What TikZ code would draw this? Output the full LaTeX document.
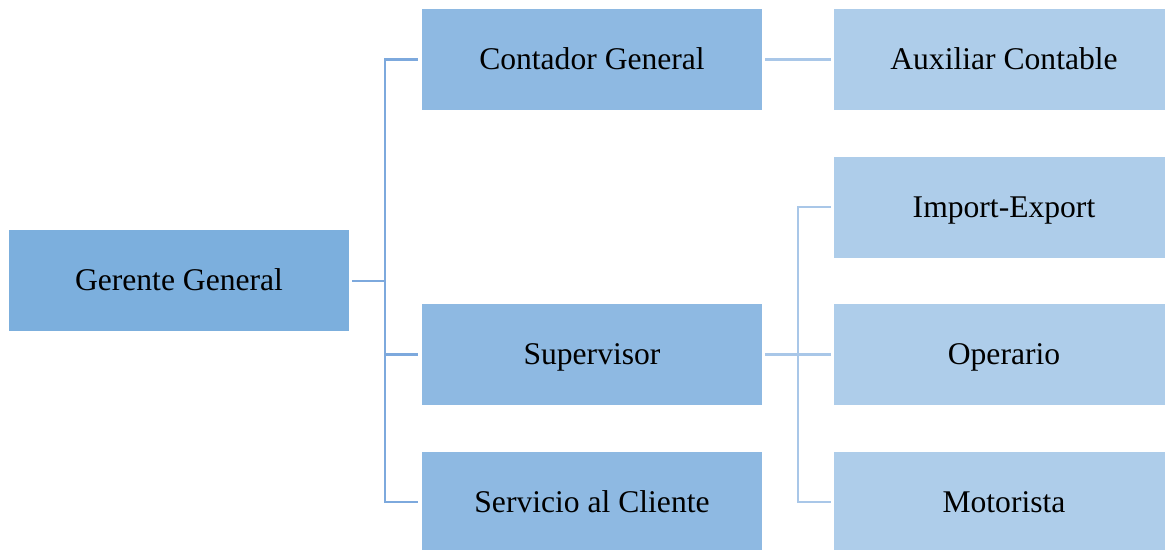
\documentclass[tikz,border=0pt]{standalone}
\usepackage{fontspec}
\setmainfont{Liberation Serif}
\definecolor{topfill}{HTML}{7CAFDD}
\definecolor{midfill}{HTML}{8EB9E2}
\definecolor{lowfill}{HTML}{AECDEA}
\definecolor{topline}{HTML}{7DA9DD}
\definecolor{lowline}{HTML}{A9C7E8}
\tikzset{
  box/.style={inner sep=0pt, minimum width=255pt, minimum height=75.75pt,
    text height=15.7pt, text depth=0pt,
    font=\fontsize{23.7}{28}\selectfont, text=black},
  topbox/.style={box, fill=topfill},
  midbox/.style={box, fill=midfill},
  lowbox/.style={box, fill=lowfill, minimum width=255pt},
  lineA/.style={draw=topline, line width=2.1pt},
  lineB/.style={draw=lowline, line width=2.1pt},
}
\begin{document}
\begin{tikzpicture}[x=0.75pt,y=-0.75pt]
\useasboundingbox (0,0) rectangle (1165,550);
% boxes
\node[topbox] (gg) at (179,280.5) {Gerente General};
\node[midbox] (cg) at (592,59.5) {Contador General};
\node[midbox] (su) at (592,354.5) {Supervisor};
\node[midbox] (sc) at (592,502) {Servicio al Cliente};
\node[lowbox, anchor=west] (ac) at (834,59.5) {};
\node at (1004,59.5) [box] {Auxiliar Contable};
\node[lowbox, anchor=west] (ie) at (834,207) {};
\node at (1004,207) [box] {Import-Export};
\node[lowbox, anchor=west] (op) at (834,354.5) {};
\node at (1004,354.5) [box] {Operario};
\node[lowbox, anchor=west] (mo) at (834,502) {};
\node at (1004,502) [box] {Motorista};
% first level connectors
\coordinate (j1) at (385,281);
\draw[lineA] ([xshift=2.25pt]gg.east |- j1) -- (j1);
\draw[lineA] ([xshift=-3pt]cg.west) -- (j1 |- cg.west) -- (j1 |- sc.west) -- ([xshift=-3pt]sc.west);
\draw[lineA] (j1 |- su.west) -- ([xshift=-3pt]su.west);
% second level connectors
\draw[lineB] ([xshift=2.25pt]cg.east) -- ([xshift=-2.25pt]ac.west);
\coordinate (j2) at (798,354.5);
\draw[lineB] ([xshift=2.25pt]su.east) -- (j2);
\draw[lineB] ([xshift=-2.25pt]ie.west) -- (j2 |- ie.west) -- (j2 |- mo.west) -- ([xshift=-2.25pt]mo.west);
\draw[lineB] (j2) -- ([xshift=-2.25pt]op.west);
\end{tikzpicture}
\end{document}
